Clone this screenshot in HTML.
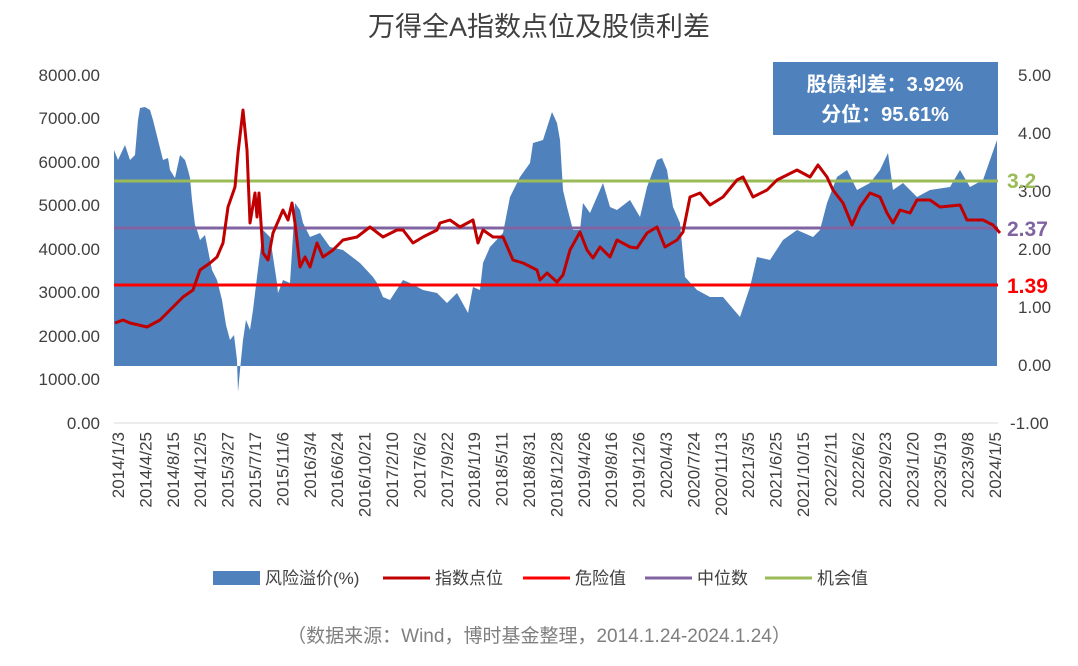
<!DOCTYPE html>
<html><head><meta charset="utf-8"><style>
body{margin:0;background:#fff;}
svg text{font-family:"Liberation Sans","Noto Sans CJK SC",sans-serif;}
</style></head><body>
<svg width="1078" height="661" xmlns="http://www.w3.org/2000/svg">
<text x="539" y="36" font-size="27" text-anchor="middle" fill="#404040">万得全A指数点位及股债利差</text>
<g font-size="17" fill="#404040" text-anchor="end">
<text x="100" y="81">8000.00</text><text x="100" y="124">7000.00</text><text x="100" y="168">6000.00</text><text x="100" y="211">5000.00</text><text x="100" y="255">4000.00</text><text x="100" y="298">3000.00</text><text x="100" y="342">2000.00</text><text x="100" y="385">1000.00</text><text x="100" y="429">0.00</text>
</g>
<g font-size="17" fill="#404040" text-anchor="start">
<text x="1018" y="81">5.00</text><text x="1018" y="139">4.00</text><text x="1018" y="197">3.00</text><text x="1018" y="255">2.00</text><text x="1018" y="313">1.00</text><text x="1018" y="371">0.00</text><text x="1010" y="429">-1.00</text>
</g>
<polygon fill="#4f81bd" points="114,366 114,150 118,160 125,145 130,160 135,155 138,120 140,108 145,107 150,110 153,120 158,140 163,160 168,158 170,170 175,178 180,155 185,160 188,170 190,178 192,200 195,225 197,230 200,240 205,235 208,250 212,270 217,280 222,300 226,325 230,340 234,335 237,360 238,392 240,370 243,340 246,320 250,330 253,310 257,277 263,230 270,237 277,283 278,293 283,280 290,283 295,203 300,210 303,223 310,237 320,233 330,247 343,250 360,263 373,277 377,283 383,297 390,300 403,280 410,283 423,290 437,293 447,303 457,293 468,313 473,287 480,290 483,263 490,247 503,233 510,197 520,177 530,163 533,143 543,140 552,112 557,123 560,140 563,190 567,207 573,230 580,230 583,203 590,213 603,183 610,207 617,210 630,200 640,217 647,187 657,160 662,158 667,170 673,207 680,223 685,277 697,290 710,297 723,297 740,317 750,287 757,257 770,260 783,240 797,230 813,237 820,230 827,203 837,177 847,170 857,190 870,183 880,170 888,153 893,190 903,183 917,197 930,190 950,187 960,170 970,187 983,180 997,140 997,366"/>
<line x1="114" y1="181" x2="998" y2="181" stroke="#9bbb59" stroke-width="3"/>
<line x1="114" y1="228" x2="998" y2="228" stroke="#8064a2" stroke-width="3"/>
<line x1="114" y1="285" x2="998" y2="285" stroke="#ff0000" stroke-width="3"/>
<polyline fill="none" stroke="#c00000" stroke-width="3" stroke-linejoin="round" points="115,323 123,320 130,323 147,327 160,320 173,307 183,297 193,290 200,270 210,263 217,257 223,243 228,207 235,187 238,153 243,110 247,150 250,223 255,193 257,217 259,193 263,253 268,260 273,233 280,217 283,210 288,220 292,203 295,223 300,267 305,257 310,267 317,243 323,257 333,250 343,240 357,237 370,227 383,237 397,230 403,230 413,243 423,237 437,230 440,223 450,220 460,227 473,220 478,243 483,230 493,237 503,237 513,260 523,263 537,270 540,280 547,273 557,282 563,275 570,250 580,232 587,250 593,258 600,247 610,257 617,240 630,247 637,248 647,233 657,227 665,247 677,240 683,232 690,197 700,193 710,205 723,197 737,180 743,177 753,197 767,190 777,180 797,170 810,177 818,165 827,177 833,190 843,203 852,225 860,207 870,193 880,197 887,213 893,223 900,210 910,213 917,200 930,200 940,207 960,205 967,220 983,220 993,225 1000,233"/>
<line x1="114" y1="423" x2="998" y2="423" stroke="#d9d9d9" stroke-width="1"/>
<rect x="773" y="62" width="225" height="73" fill="#4f81bd"/>
<text x="885" y="91" font-size="20" font-weight="bold" fill="#fff" text-anchor="middle">股债利差：3.92%</text>
<text x="885" y="121" font-size="20" font-weight="bold" fill="#fff" text-anchor="middle">分位：95.61%</text>
<text x="1007" y="188" font-size="21" font-weight="bold" fill="#9bbb59">3.2</text>
<text x="1007" y="236" font-size="21" font-weight="bold" fill="#8064a2">2.37</text>
<text x="1007" y="293" font-size="21" font-weight="bold" fill="#ff0000">1.39</text>
<g font-size="17" fill="#404040" text-anchor="end">
<text transform="translate(124,432) rotate(-90)">2014/1/3</text>
<text transform="translate(151.4,432) rotate(-90)">2014/4/25</text>
<text transform="translate(178.8,432) rotate(-90)">2014/8/15</text>
<text transform="translate(206.2,432) rotate(-90)">2014/12/5</text>
<text transform="translate(233.6,432) rotate(-90)">2015/3/27</text>
<text transform="translate(261,432) rotate(-90)">2015/7/17</text>
<text transform="translate(288.4,432) rotate(-90)">2015/11/6</text>
<text transform="translate(315.8,432) rotate(-90)">2016/3/4</text>
<text transform="translate(343.2,432) rotate(-90)">2016/6/24</text>
<text transform="translate(370.6,432) rotate(-90)">2016/10/21</text>
<text transform="translate(398,432) rotate(-90)">2017/2/10</text>
<text transform="translate(425.4,432) rotate(-90)">2017/6/2</text>
<text transform="translate(452.8,432) rotate(-90)">2017/9/22</text>
<text transform="translate(480.2,432) rotate(-90)">2018/1/19</text>
<text transform="translate(507.6,432) rotate(-90)">2018/5/11</text>
<text transform="translate(535,432) rotate(-90)">2018/8/31</text>
<text transform="translate(562.4,432) rotate(-90)">2018/12/28</text>
<text transform="translate(589.8,432) rotate(-90)">2019/4/26</text>
<text transform="translate(617.2,432) rotate(-90)">2019/8/16</text>
<text transform="translate(644.6,432) rotate(-90)">2019/12/6</text>
<text transform="translate(672,432) rotate(-90)">2020/4/3</text>
<text transform="translate(699.4,432) rotate(-90)">2020/7/24</text>
<text transform="translate(726.8,432) rotate(-90)">2020/11/13</text>
<text transform="translate(754.2,432) rotate(-90)">2021/3/5</text>
<text transform="translate(781.6,432) rotate(-90)">2021/6/25</text>
<text transform="translate(809,432) rotate(-90)">2021/10/15</text>
<text transform="translate(836.4,432) rotate(-90)">2022/2/11</text>
<text transform="translate(863.8,432) rotate(-90)">2022/6/2</text>
<text transform="translate(891.2,432) rotate(-90)">2022/9/23</text>
<text transform="translate(918.6,432) rotate(-90)">2023/1/20</text>
<text transform="translate(946,432) rotate(-90)">2023/5/19</text>
<text transform="translate(973.4,432) rotate(-90)">2023/9/8</text>
<text transform="translate(1000.8,432) rotate(-90)">2024/1/5</text>
</g>
<g font-size="17" fill="#404040">
<rect x="213" y="571" width="47" height="14" fill="#4f81bd"/>
<text x="265" y="584">风险溢价(%)</text>
<line x1="383" y1="578" x2="430" y2="578" stroke="#c00000" stroke-width="3"/>
<text x="435" y="584">指数点位</text>
<line x1="523" y1="578" x2="570" y2="578" stroke="#ff0000" stroke-width="3"/>
<text x="575" y="584">危险值</text>
<line x1="645" y1="578" x2="692" y2="578" stroke="#8064a2" stroke-width="3"/>
<text x="697" y="584">中位数</text>
<line x1="765" y1="578" x2="812" y2="578" stroke="#9bbb59" stroke-width="3"/>
<text x="817" y="584">机会值</text>
</g>
<text x="539" y="642" font-size="19" fill="#7f7f7f" text-anchor="middle">（数据来源：Wind，博时基金整理，2014.1.24-2024.1.24）</text>
</svg>
</body></html>
